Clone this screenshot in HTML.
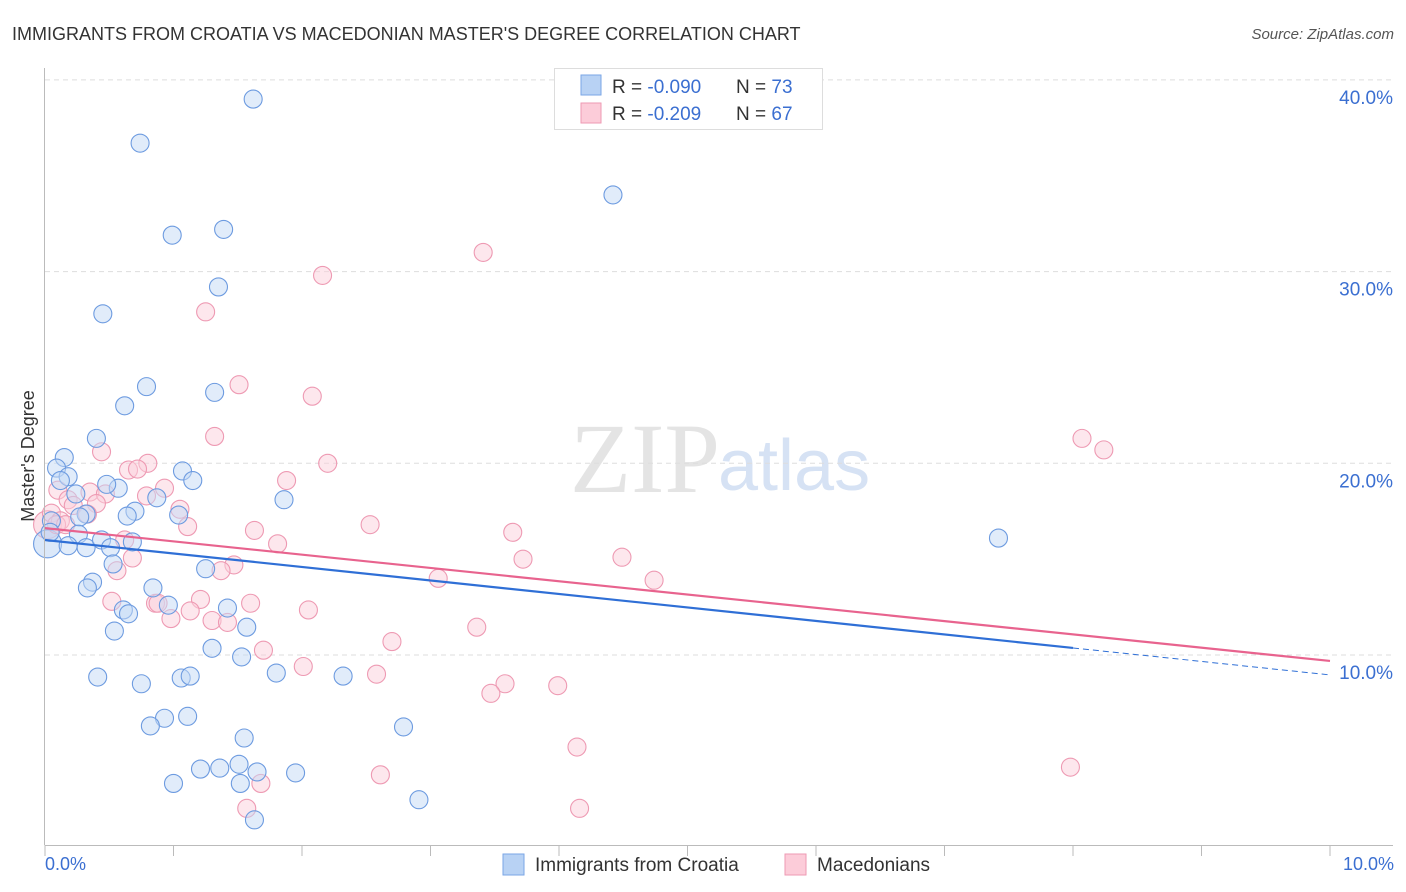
<!DOCTYPE html>
<html><head><meta charset="utf-8"><style>
body{margin:0;background:#fff;font-family:"Liberation Sans",sans-serif;}
#wrap{position:relative;width:1406px;height:892px;overflow:hidden}
</style></head><body>
<div id="wrap">
<svg id="svg" width="1406" height="892" xmlns="http://www.w3.org/2000/svg">
<text x="12" y="40" font-size="18" fill="#333">IMMIGRANTS FROM CROATIA VS MACEDONIAN MASTER'S DEGREE CORRELATION CHART</text>
<text x="1394" y="39" font-size="15" fill="#555" font-style="italic" text-anchor="end">Source: ZipAtlas.com</text>
<text x="720" y="492" font-size="100" fill="#e4e4e4" text-anchor="end" font-family="Liberation Serif,serif">ZIP</text>
<text x="718" y="490" font-size="72" fill="#d6e2f4">atlas</text>
<g id="grid"></g><g id="marks"></g><g id="axes"></g>
<text transform="translate(34,456) rotate(-90)" font-size="18" fill="#333" text-anchor="middle">Master's Degree</text>
<text x="45" y="870" font-size="18" fill="#3b6fd1">0.0%</text>
<text x="1394" y="870" font-size="18" fill="#3b6fd1" text-anchor="end">10.0%</text>
<g>
<rect x="554.5" y="68.5" width="268" height="61" fill="#fff" stroke="#ddd"/>
<rect x="581" y="75" width="20" height="20" fill="#b8d2f4" stroke="#7aa6e6"/>
<rect x="581" y="103" width="20" height="20" fill="#fcccd9" stroke="#ee9ab3"/>
<text x="612" y="93" font-size="19" fill="#333">R = <tspan fill="#3b6fd1">-0.090</tspan></text>
<text x="736" y="93" font-size="19" fill="#333">N = <tspan fill="#3b6fd1">73</tspan></text>
<text x="612" y="120" font-size="19" fill="#333">R = <tspan fill="#3b6fd1"> -0.209</tspan></text>
<text x="736" y="120" font-size="19" fill="#333">N = <tspan fill="#3b6fd1">67</tspan></text>
</g>
<g>
<rect x="503" y="854" width="21" height="21" fill="#b8d2f4" stroke="#7aa6e6"/>
<text x="535" y="871" font-size="19" fill="#333">Immigrants from Croatia</text>
<rect x="785" y="854" width="21" height="21" fill="#fcccd9" stroke="#ee9ab3"/>
<text x="817" y="871" font-size="19" fill="#333">Macedonians</text>
</g>
</svg>
</div>
<script>
const yTicks=[10,20,30,40];
const yTickLabels=["10.0%","20.0%","30.0%","40.0%"];
const xTicks=[0,1,2,3,4,5,6,7,8,9,10];
const blueX=[1.62,0.74,4.42,0.99,1.39,1.35,0.45,0.79,0.62,1.32,0.40,0.15,0.09,0.18,0.12,1.07,1.15,0.57,0.48,0.87,1.86,0.24,0.70,0.64,1.04,0.32,0.27,0.05,0.04,0.26,0.32,0.18,0.44,0.51,0.68,0.53,0.37,0.33,0.84,1.25,0.96,1.42,0.61,0.65,0.54,1.57,1.30,1.53,0.41,0.75,1.06,1.13,1.80,2.32,7.42,0.93,0.82,1.11,2.79,1.55,1.21,1.36,1.51,1.65,1.95,1.00,1.52,2.91,1.63];
const blueY=[39.0,36.7,34.0,31.9,32.2,29.2,27.8,24.0,23.0,23.7,21.3,20.3,19.75,19.3,19.1,19.6,19.1,18.7,18.9,18.2,18.1,18.4,17.5,17.25,17.3,17.35,17.2,17.0,16.4,16.3,15.6,15.7,16.0,15.6,15.9,14.75,13.8,13.5,13.5,14.5,12.6,12.45,12.35,12.15,11.25,11.45,10.35,9.9,8.85,8.5,8.8,8.9,9.06,8.9,16.1,6.7,6.3,6.8,6.25,5.67,4.05,4.1,4.3,3.9,3.85,3.3,3.3,2.45,1.4];
const blueBigX=[0.02], blueBigY=[15.8];
const pinkX=[3.41,2.16,1.25,1.51,2.08,1.32,8.07,8.24,0.44,0.80,2.20,0.65,0.72,1.88,0.93,0.35,0.47,0.10,0.18,0.40,0.79,0.22,1.05,0.33,0.05,0.12,1.11,2.53,1.63,3.64,1.81,0.62,0.09,0.16,4.49,3.72,0.68,0.56,1.47,1.37,3.06,4.74,0.52,0.86,0.88,1.21,0.98,2.05,1.13,1.30,1.42,1.60,3.36,2.70,1.70,2.01,2.58,3.58,3.47,3.99,4.14,7.98,2.61,1.57,4.16,1.68];
const pinkY=[31.0,29.8,27.9,24.1,23.5,21.4,21.3,20.7,20.6,20.0,20.0,19.65,19.7,19.1,18.7,18.5,18.4,18.6,18.1,17.9,18.3,17.8,17.6,17.35,17.4,17.0,16.7,16.8,16.5,16.4,15.8,16.0,16.8,16.8,15.1,15.0,15.06,14.4,14.7,14.4,14.0,13.9,12.8,12.7,12.7,12.9,11.9,12.35,12.3,11.8,11.7,12.7,11.45,10.7,10.25,9.4,9.0,8.5,8.0,8.4,5.2,4.15,3.75,2.0,2.0,3.3];
const pinkBigX=[0.02], pinkBigY=[16.8];
const blueTrend=[16.0,8.96];
const pinkTrend=[16.62,9.69];
const blueSolidEnd=8.0;

const NS="http://www.w3.org/2000/svg";
const xs=v=>45+v*128.5;
const ys=v=>655-(v-10)*19.17;
function mk(tag,attrs,parent){const e=document.createElementNS(NS,tag);for(const k in attrs)e.setAttribute(k,attrs[k]);parent.appendChild(e);return e;}
const grid=document.getElementById('grid'),marks=document.getElementById('marks'),axes=document.getElementById('axes');
yTicks.forEach((t,i)=>{
  const l=mk('line',{x1:45,x2:1393,y1:ys(t),y2:ys(t),stroke:'#ddd','stroke-dasharray':'5,4'},grid);
  
  
  const tx=mk('text',{x:1393,y:ys(t)+24,'font-size':19,fill:'#3b6fd1','text-anchor':'end'},axes);
  tx.textContent=yTickLabels[i];
  
  
});
const xa=mk('line',{x1:45,x2:1393,y1:845.5,y2:845.5,stroke:'#bbb'},axes);


const ya=mk('line',{x1:44.5,x2:44.5,y1:68,y2:845,stroke:'#bbb'},axes);


xTicks.forEach(t=>{
  const l=mk('line',{x1:xs(t),x2:xs(t),y1:845,y2:856,stroke:'#bbb'},axes);
  
  
});
function dots(X,Y,r,fill,stroke,name){
  X.forEach((x,i)=>{
    const c=mk('circle',{cx:xs(x),cy:ys(Y[i]),r:r,fill:fill,'fill-opacity':0.5,stroke:stroke,'stroke-width':1.1},marks);
    
    
  });
}
dots(pinkBigX,pinkBigY,14,'#f9c3d2','#ee9ab3','macedonians-point');
dots(blueBigX,blueBigY,14,'#b8d2f4','#6d9be0','croatia-point');
dots(pinkX,pinkY,9,'#fbd0dc','#ee9ab3','macedonians-point');
dots(blueX,blueY,9,'#c4daf6','#6d9be0','croatia-point');
const by=x=>blueTrend[0]+(blueTrend[1]-blueTrend[0])*x/10;
const py=x=>pinkTrend[0]+(pinkTrend[1]-pinkTrend[0])*x/10;
let t=mk('line',{x1:xs(0),y1:ys(by(0)),x2:xs(blueSolidEnd),y2:ys(by(blueSolidEnd)),stroke:'#2f6fd6','stroke-width':2.2},marks);


t=mk('line',{x1:xs(blueSolidEnd),y1:ys(by(blueSolidEnd)),x2:xs(10),y2:ys(by(10)),stroke:'#2f6fd6','stroke-width':1,'stroke-dasharray':'6,4'},marks);


t=mk('line',{x1:xs(0),y1:ys(py(0)),x2:xs(10),y2:ys(py(10)),stroke:'#e8638e','stroke-width':2.2},marks);


</script>
</body></html>
